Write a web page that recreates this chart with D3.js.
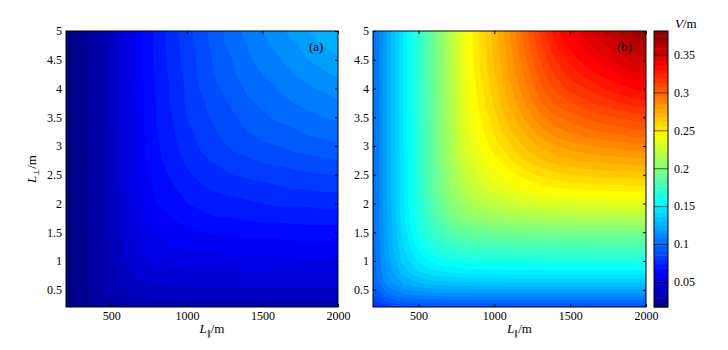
<!DOCTYPE html>
<html>
<head>
<meta charset="utf-8">
<script src="https://cdn.jsdelivr.net/npm/d3@7"></script>
<style>
  body { margin: 0; background: #fff; }
  svg text { font-family: "Times New Roman", "Liberation Serif", serif; }
</style>
</head>
<body>
<svg id="chart" width="728" height="350"></svg>
<script>
// grid positions
const lPar = [200, 300, 400, 500, 600, 700, 800, 900, 1000, 1100, 1200, 1300, 1400, 1500, 1600, 1700, 1800, 1900, 2000];
const lPerp = [0.2, 0.4, 0.6, 0.8, 1, 1.25, 1.5, 1.75, 2, 2.25, 2.5, 2.75, 3, 3.25, 3.5, 3.75, 4, 4.25, 4.5, 4.75, 5];

// V (V/m), one row per lPerp value, bottom row first
const valuesA = [
  [0.020,0.025,0.029,0.033,0.035,0.036,0.036,0.037,0.037,0.037,0.037,0.037,0.037,0.037,0.037,0.037,0.037,0.037,0.037],
  [0.020,0.025,0.031,0.037,0.040,0.042,0.043,0.043,0.043,0.044,0.044,0.044,0.044,0.044,0.044,0.044,0.044,0.044,0.044],
  [0.020,0.026,0.032,0.038,0.043,0.046,0.047,0.048,0.048,0.049,0.049,0.049,0.049,0.049,0.049,0.049,0.049,0.049,0.049],
  [0.020,0.026,0.032,0.039,0.045,0.049,0.050,0.051,0.052,0.052,0.052,0.052,0.053,0.053,0.053,0.053,0.053,0.053,0.053],
  [0.020,0.026,0.032,0.040,0.047,0.052,0.054,0.055,0.056,0.056,0.057,0.057,0.057,0.057,0.058,0.058,0.058,0.058,0.058],
  [0.020,0.026,0.032,0.041,0.049,0.054,0.057,0.059,0.060,0.061,0.061,0.062,0.062,0.062,0.062,0.063,0.063,0.063,0.063],
  [0.020,0.026,0.033,0.042,0.050,0.056,0.060,0.062,0.064,0.065,0.066,0.066,0.067,0.067,0.067,0.068,0.068,0.068,0.068],
  [0.020,0.026,0.033,0.042,0.051,0.058,0.063,0.065,0.068,0.069,0.071,0.071,0.072,0.073,0.073,0.073,0.074,0.074,0.074],
  [0.020,0.026,0.033,0.042,0.052,0.060,0.065,0.068,0.071,0.073,0.074,0.075,0.076,0.077,0.078,0.078,0.078,0.079,0.079],
  [0.020,0.026,0.033,0.042,0.052,0.061,0.066,0.070,0.073,0.076,0.078,0.079,0.080,0.081,0.082,0.083,0.083,0.084,0.084],
  [0.020,0.026,0.033,0.043,0.053,0.062,0.068,0.072,0.076,0.079,0.081,0.083,0.084,0.085,0.086,0.087,0.088,0.089,0.089],
  [0.020,0.026,0.033,0.043,0.053,0.063,0.069,0.074,0.078,0.082,0.084,0.087,0.088,0.090,0.091,0.092,0.093,0.094,0.095],
  [0.020,0.026,0.033,0.043,0.053,0.063,0.070,0.075,0.080,0.084,0.087,0.090,0.092,0.094,0.095,0.097,0.098,0.099,0.100],
  [0.020,0.026,0.033,0.043,0.053,0.064,0.071,0.076,0.081,0.086,0.089,0.092,0.095,0.097,0.099,0.100,0.102,0.103,0.104],
  [0.020,0.026,0.033,0.043,0.054,0.064,0.071,0.077,0.083,0.087,0.091,0.094,0.097,0.100,0.102,0.103,0.105,0.107,0.108],
  [0.020,0.026,0.033,0.043,0.054,0.064,0.071,0.078,0.084,0.088,0.093,0.096,0.100,0.102,0.104,0.107,0.109,0.110,0.112],
  [0.020,0.026,0.033,0.043,0.054,0.064,0.072,0.078,0.084,0.090,0.094,0.098,0.102,0.105,0.107,0.110,0.112,0.114,0.116],
  [0.020,0.026,0.033,0.043,0.054,0.065,0.072,0.079,0.085,0.091,0.096,0.100,0.104,0.107,0.110,0.113,0.115,0.118,0.120],
  [0.020,0.026,0.033,0.043,0.054,0.065,0.073,0.079,0.086,0.091,0.097,0.101,0.106,0.109,0.112,0.116,0.119,0.121,0.124],
  [0.020,0.026,0.033,0.043,0.054,0.065,0.073,0.080,0.086,0.092,0.098,0.103,0.107,0.111,0.115,0.118,0.122,0.125,0.128],
  [0.020,0.026,0.033,0.043,0.054,0.065,0.073,0.080,0.087,0.093,0.099,0.104,0.109,0.113,0.117,0.121,0.125,0.129,0.132]
];

const valuesB = [
  [0.082,0.088,0.092,0.093,0.093,0.093,0.093,0.093,0.093,0.093,0.093,0.093,0.093,0.093,0.093,0.093,0.093,0.093,0.093],
  [0.093,0.105,0.111,0.113,0.114,0.115,0.115,0.115,0.115,0.115,0.115,0.115,0.115,0.115,0.115,0.115,0.115,0.115,0.115],
  [0.100,0.116,0.125,0.130,0.133,0.134,0.134,0.135,0.135,0.135,0.135,0.135,0.135,0.135,0.135,0.135,0.135,0.135,0.135],
  [0.102,0.121,0.134,0.142,0.147,0.149,0.151,0.151,0.151,0.152,0.152,0.152,0.152,0.152,0.152,0.152,0.152,0.152,0.152],
  [0.103,0.123,0.139,0.150,0.157,0.161,0.163,0.164,0.165,0.165,0.165,0.166,0.166,0.166,0.166,0.166,0.166,0.166,0.166],
  [0.103,0.125,0.143,0.158,0.168,0.175,0.178,0.180,0.181,0.181,0.182,0.182,0.183,0.183,0.183,0.183,0.183,0.183,0.183],
  [0.104,0.126,0.145,0.163,0.176,0.186,0.191,0.194,0.196,0.197,0.198,0.199,0.199,0.199,0.200,0.200,0.200,0.200,0.200],
  [0.104,0.126,0.147,0.166,0.183,0.196,0.205,0.209,0.212,0.215,0.216,0.218,0.218,0.219,0.219,0.219,0.220,0.220,0.220],
  [0.104,0.127,0.148,0.168,0.187,0.203,0.215,0.221,0.226,0.229,0.232,0.234,0.235,0.236,0.237,0.237,0.238,0.238,0.238],
  [0.104,0.127,0.148,0.170,0.190,0.208,0.222,0.230,0.236,0.241,0.244,0.248,0.250,0.251,0.252,0.253,0.253,0.254,0.254],
  [0.104,0.127,0.148,0.170,0.191,0.210,0.226,0.236,0.243,0.249,0.254,0.258,0.261,0.263,0.264,0.265,0.266,0.266,0.267],
  [0.104,0.127,0.148,0.171,0.192,0.213,0.230,0.241,0.249,0.256,0.263,0.268,0.272,0.274,0.276,0.277,0.278,0.279,0.280],
  [0.104,0.127,0.149,0.171,0.193,0.214,0.233,0.245,0.254,0.262,0.270,0.276,0.281,0.284,0.286,0.288,0.289,0.291,0.292],
  [0.104,0.127,0.149,0.171,0.193,0.215,0.235,0.248,0.258,0.268,0.276,0.284,0.290,0.294,0.297,0.299,0.301,0.303,0.304],
  [0.104,0.127,0.149,0.171,0.194,0.216,0.237,0.250,0.261,0.272,0.282,0.291,0.298,0.302,0.306,0.309,0.311,0.313,0.315],
  [0.104,0.127,0.149,0.172,0.194,0.217,0.238,0.253,0.264,0.276,0.287,0.298,0.306,0.311,0.315,0.319,0.322,0.325,0.327],
  [0.104,0.127,0.149,0.172,0.194,0.218,0.239,0.254,0.266,0.279,0.291,0.303,0.312,0.319,0.323,0.328,0.332,0.335,0.338],
  [0.104,0.127,0.149,0.172,0.195,0.218,0.240,0.256,0.268,0.282,0.294,0.307,0.318,0.325,0.331,0.336,0.340,0.345,0.348],
  [0.104,0.127,0.149,0.172,0.195,0.218,0.241,0.257,0.270,0.284,0.297,0.311,0.323,0.331,0.338,0.344,0.349,0.354,0.358],
  [0.104,0.127,0.149,0.172,0.195,0.219,0.241,0.257,0.271,0.285,0.300,0.315,0.328,0.337,0.344,0.351,0.357,0.363,0.368],
  [0.104,0.127,0.149,0.172,0.195,0.219,0.242,0.258,0.272,0.287,0.302,0.318,0.332,0.342,0.350,0.358,0.365,0.372,0.378]
];

const xTicks = [500, 1000, 1500, 2000];
const yTicks = [0.5, 1, 1.5, 2, 2.5, 3, 3.5, 4, 4.5, 5];
const cbTicks = [0.05, 0.1, 0.15, 0.2, 0.25, 0.3, 0.35];
const cbRange = [0.017, 0.381];
const levelStep = 0.006;

const svg = d3.select('svg#chart');
const fontFamily = '"Times New Roman", "Liberation Serif", serif';
const plotTop = 31;
const plotBottom = 307;

const panels = [
  { values: valuesA, label: '(a)', left: 66, right: 338 },
  { values: valuesB, label: '(b)', left: 373, right: 646 }
];

// MATLAB jet
const jetStops = [0, 1/8, 3/8, 5/8, 7/8, 1];
const jetColors = ['#000080', '#0000ff', '#00ffff', '#ffff00', '#ff0000', '#800000'];
const colorScale = d3.scaleLinear()
  .domain(jetStops.map(t => cbRange[0] + t * (cbRange[1] - cbRange[0])))
  .range(jetColors)
  .clamp(true);

const levels = d3.range(cbRange[0], cbRange[1], levelStep);

const yScale = d3.scaleLinear().domain([0.2, 5]).range([plotBottom, plotTop]);

const styleAxis = (g) => {
  g.attr('font-family', fontFamily).attr('font-size', 12);
  g.selectAll('.domain').remove();
  g.selectAll('.tick line').attr('stroke', '#000');
  g.selectAll('.tick text').attr('fill', '#000');
};

const addLabel = (sel, sub) => {
  sel.append('tspan').attr('font-style', 'italic').text('L');
  sel.append('tspan').attr('font-size', 8).attr('dy', 3).text(sub);
  sel.append('tspan').attr('dy', -3).text('/m');
};

panels.forEach((p, k) => {
  const xScale = d3.scaleLinear().domain([200, 2000]).range([p.left, p.right]);
  const n = lPar.length, m = lPerp.length;

  // grid index -> pixel, through the read grid positions
  const gx = d3.scaleLinear()
    .domain(lPar.map((d, i) => i + 0.5))
    .range(lPar.map(d => xScale(d)))
    .clamp(true);
  const gy = d3.scaleLinear()
    .domain(lPerp.map((d, i) => i + 0.5))
    .range(lPerp.map(d => yScale(d)))
    .clamp(true);
  const path = d3.geoPath(d3.geoTransform({
    point: function(px, py) { this.stream.point(gx(px), gy(py)); }
  }));

  const contours = d3.contours()
    .size([n, m])
    .thresholds(levels)(p.values.flat());

  const clipId = 'clip' + k;
  svg.append('clipPath').attr('id', clipId)
    .append('rect')
      .attr('x', p.left).attr('y', plotTop)
      .attr('width', p.right - p.left).attr('height', plotBottom - plotTop);

  const g = svg.append('g').attr('clip-path', `url(#${clipId})`);
  g.append('rect')
    .attr('x', p.left).attr('y', plotTop)
    .attr('width', p.right - p.left).attr('height', plotBottom - plotTop)
    .attr('fill', colorScale(d3.min(p.values.flat())));
  g.selectAll('path')
    .data(contours.filter(c => c.coordinates.length))
    .enter().append('path')
      .attr('d', path)
      .attr('fill', d => colorScale(d.value))
      .attr('stroke', 'none');

  svg.append('g')
    .attr('transform', `translate(0,${plotBottom})`)
    .call(d3.axisBottom(xScale).tickValues(xTicks).tickSize(-3).tickPadding(4).tickFormat(d => d))
    .call(styleAxis);
  svg.append('g')
    .attr('transform', `translate(0,${plotTop})`)
    .call(d3.axisTop(xScale).tickValues(xTicks).tickSize(-3).tickFormat(''))
    .call(styleAxis);
  svg.append('g')
    .attr('transform', `translate(${p.left},0)`)
    .call(d3.axisLeft(yScale).tickValues(yTicks).tickSize(-3).tickPadding(4).tickFormat(d => d))
    .call(styleAxis);
  svg.append('g')
    .attr('transform', `translate(${p.right},0)`)
    .call(d3.axisRight(yScale).tickValues(yTicks).tickSize(-3).tickFormat(''))
    .call(styleAxis);

  svg.append('rect')
    .attr('x', p.left).attr('y', plotTop)
    .attr('width', p.right - p.left).attr('height', plotBottom - plotTop)
    .attr('fill', 'none').attr('stroke', '#000').attr('stroke-width', 1);

  svg.append('text')
    .attr('x', p.right - 29).attr('y', 51)
    .attr('font-size', 13)
    .text(p.label);

  svg.append('text')
    .attr('x', (p.left + p.right) / 2 + 10).attr('y', 333)
    .attr('text-anchor', 'middle')
    .attr('font-size', 13)
    .call(addLabel, '\u2225');
});

// y label
svg.append('text')
  .attr('transform', 'translate(36,169) rotate(-90)')
  .attr('text-anchor', 'middle')
  .attr('font-size', 13)
  .call(addLabel, '\u22A5');

// colorbar
const cbLeft = 654, cbRight = 668;
const cbScale = d3.scaleLinear().domain(cbRange).range([plotBottom, plotTop]);
const cbSteps = d3.range(64);
const cbStep = (cbRange[1] - cbRange[0]) / 64;
svg.append('g').selectAll('rect')
  .data(cbSteps)
  .enter().append('rect')
    .attr('x', cbLeft)
    .attr('width', cbRight - cbLeft)
    .attr('y', i => cbScale(cbRange[0] + (i + 1) * cbStep))
    .attr('height', i => cbScale(cbRange[0] + i * cbStep) - cbScale(cbRange[0] + (i + 1) * cbStep) + 0.5)
    .attr('fill', i => colorScale(cbRange[0] + (i + 0.5) * cbStep));

svg.append('g')
  .attr('transform', `translate(${cbRight},0)`)
  .call(d3.axisRight(cbScale).tickValues(cbTicks).tickSize(-(cbRight - cbLeft)).tickPadding(6).tickFormat(d => d))
  .call(styleAxis)
  .call(g => g.selectAll('.tick line').attr('stroke-opacity', 0.6));

svg.append('rect')
  .attr('x', cbLeft).attr('y', plotTop)
  .attr('width', cbRight - cbLeft).attr('height', plotBottom - plotTop)
  .attr('fill', 'none').attr('stroke', '#000');

const cbTitle = svg.append('text')
  .attr('x', 675).attr('y', 28)
  .attr('font-size', 13);
cbTitle.append('tspan').attr('font-style', 'italic').text('V');
cbTitle.append('tspan').text('/m');
</script>
</body>
</html>
